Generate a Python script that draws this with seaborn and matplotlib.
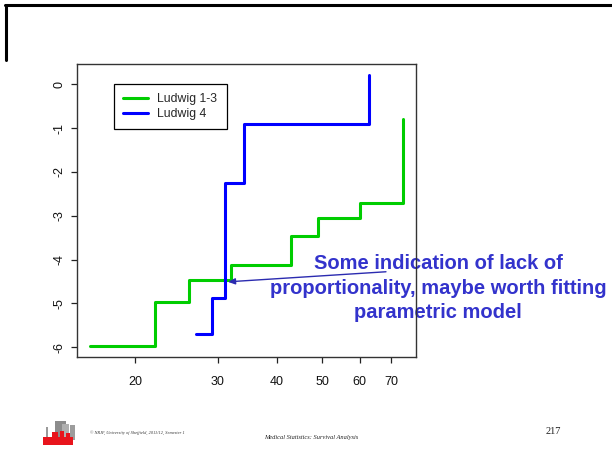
import matplotlib
matplotlib.use("Agg")
import matplotlib.pyplot as plt
import numpy as np
import pandas as pd
import seaborn as sns
from matplotlib.patches import Rectangle
from matplotlib.lines import Line2D
from matplotlib.ticker import FixedLocator, FixedFormatter, NullLocator

# log(-log S(t)) step curves for the two Ludwig groups
groups = ["Ludwig 1-3", "Ludwig 4"]
colours = ["#00cd00", "#0000ff"]
time_13 = [16.0, 22.0, 26.0, 32.0, 43.0, 49.0, 60.0, 74.4]
lls_13 = [-5.98, -4.96, -4.47, -4.12, -3.46, -3.05, -2.72, -0.80]
time_4 = [27.0, 29.1, 31.1, 34.0, 63.0]
lls_4 = [-5.71, -4.89, -2.26, -0.91, 0.22]

x_ticks = [20, 30, 40, 50, 60, 70]
y_ticks = [-6, -5, -4, -3, -2, -1, 0]

note = "Some indication of lack of\nproportionality, maybe worth fitting\nparametric model"
footer_left = "\u00a9 NRJF, University of Sheffield, 2011/12, Semester 1"
footer_mid = "Medical Statistics: Survival Analysis"
page_no = "217"

df = pd.concat([
    pd.DataFrame({"time": time_13, "lls": lls_13, "group": groups[0]}),
    pd.DataFrame({"time": time_4, "lls": lls_4, "group": groups[1]}),
], ignore_index=True)

sns.set_theme(style="white")
plt.rcParams["font.family"] = ["Liberation Sans", "DejaVu Sans"]
plt.rcParams["axes.unicode_minus"] = False

W, H = 612, 459
fig = plt.figure(figsize=(W / 100, H / 100), dpi=100)
fig.patch.set_facecolor("white")


def fx(px):
    return px / W


def fy(py):
    return 1 - py / H


ax = fig.add_axes([fx(77), fy(357), fx(416) - fx(77), fy(64) - fy(357)])
ax.set_xscale("log")

sns.lineplot(data=df, x="time", y="lls", hue="group", hue_order=groups,
             palette=colours, estimator=None, sort=False, legend=False,
             drawstyle="steps-post", linewidth=2.2, ax=ax)

# axis ranges with the usual 4% padding in log/linear space
lx = np.log(df["time"])
span = lx.max() - lx.min()
ax.set_xlim(np.exp(lx.min() - 0.04 * span), np.exp(lx.max() + 0.04 * span))
yspan = df["lls"].max() - df["lls"].min()
ax.set_ylim(df["lls"].min() - 0.04 * yspan, df["lls"].max() + 0.04 * yspan)

ax.xaxis.set_major_locator(FixedLocator(x_ticks))
ax.xaxis.set_major_formatter(FixedFormatter([str(v) for v in x_ticks]))
ax.xaxis.set_minor_locator(NullLocator())
ax.yaxis.set_major_locator(FixedLocator(y_ticks))
ax.set_yticklabels([str(v) for v in y_ticks], rotation=90, va="center")
ax.set_xlabel("")
ax.set_ylabel("")
ax.tick_params(axis="both", which="major", length=4.5, width=0.9,
               color="#222222", labelsize=9, labelcolor="#111111",
               bottom=True, left=True)
ax.tick_params(axis="x", pad=9)
ax.tick_params(axis="y", pad=3.5)
for s in ax.spines.values():
    s.set_visible(True)
    s.set_color("#333333")
    s.set_linewidth(1.0)

handles = [Line2D([], [], color=c, lw=2.2) for c in colours]
leg = ax.legend(handles, groups, loc="upper left",
                bbox_to_anchor=(fx(114), fy(84)), bbox_transform=fig.transFigure,
                borderaxespad=0, frameon=True, fancybox=False, framealpha=1,
                edgecolor="black", fontsize=8.8, handlelength=2.0,
                handletextpad=0.8, borderpad=0.75, labelspacing=0.25)
leg.get_frame().set_linewidth(0.9)

# annotation arrow pointing at where the curves cross
ax.annotate("", xy=(31.5, -4.51), xytext=(68.3, -4.28),
            arrowprops=dict(arrowstyle="-|>,head_length=0.35,head_width=0.15",
                            color="#2b2bb0", lw=1.0, shrinkA=0, shrinkB=0),
            annotation_clip=False, zorder=2)
ax.text(fx(438), fy(288), note, transform=fig.transFigure, ha="center",
        va="center", multialignment="center", fontsize=14.5, fontweight="bold",
        color="#3333cc", linespacing=1.36, zorder=2, clip_on=False)

# slide border
fig.add_artist(Line2D([fx(5), 1], [fy(5), fy(5)], color="black", lw=2.2,
                      transform=fig.transFigure))
fig.add_artist(Line2D([fx(6), fx(6)], [fy(5), fy(60)], color="black", lw=2.2,
                      transform=fig.transFigure))

# footer logo
def box(x0, y0, x1, y1, color):
    fig.add_artist(Rectangle((fx(x0), fy(y1)), fx(x1) - fx(x0), fy(y0) - fy(y1),
                             transform=fig.transFigure, facecolor=color,
                             edgecolor="none"))

box(46, 427, 48, 443, "#9a9a9a")
box(55, 421, 66, 438, "#8c8c8c")
box(62, 424, 69, 438, "#b0b0b0")
box(70, 425, 75, 440, "#9c9c9c")
box(43, 437, 73, 445, "#e8141c")
box(52, 432, 58, 438, "#e8141c")
box(60, 431, 64, 437, "#e8141c")
box(66, 433, 70, 438, "#e8141c")

fig.text(fx(90), fy(433), footer_left, fontsize=3.2, style="italic",
         family="Liberation Serif", color="#333333", va="center", ha="left")
fig.text(fx(311), fy(438), footer_mid, fontsize=4.6, style="italic",
         family="Liberation Serif", color="#222222", va="center", ha="center")
fig.text(fx(553), fy(432), page_no, fontsize=7.5,
         family="Liberation Serif", color="#222222", va="center", ha="center")

fig.savefig("out.png", dpi=100, facecolor="white")
